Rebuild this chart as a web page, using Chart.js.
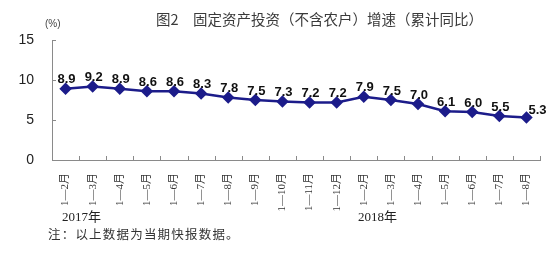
<!DOCTYPE html>
<html>
<head>
<meta charset="utf-8">
<script src="https://cdn.jsdelivr.net/npm/chart.js@4.4.1/dist/chart.umd.min.js"></script>
<style>
  body { margin: 0; background: #fff; }
  #wrap { position: relative; width: 560px; height: 253px; overflow: hidden; }
  #wrap canvas { position: absolute; left: 0; top: 0; }
  .txt { position: absolute; white-space: nowrap; color: #333; }
  #title { left: 156px; top: 8px; font: 14.5px "Noto Sans CJK SC", sans-serif; color: #3a3a3a; }
  #unit { left: 45px; top: 18px; font: 10px "Liberation Sans", Arial, sans-serif; color: #444; }
  .year { top: 206px; font: 13px "Liberation Serif", "Noto Sans CJK SC", serif; color: #222; }
  #note { left: 48px; top: 224px; font: 12.5px "Noto Sans CJK SC", serif; letter-spacing: 1.2px; color: #333; }
</style>
</head>
<body>
<div id="wrap">
  <canvas id="mycanvas" width="560" height="253"></canvas>
  <div class="txt" id="title">图2　固定资产投资（不含农户）增速（累计同比）</div>
  <div class="txt" id="unit">(%)</div>
  <div class="txt year" style="left:62px">2017年</div>
  <div class="txt year" style="left:358px">2018年</div>
  <div class="txt" id="note">注：以上数据为当期快报数据。</div>
</div>
<script>
// 2017: 1-2月 .. 1-12月, 2018: 1-2月 .. 1-8月
var months = ['1—2月', '1—3月', '1—4月', '1—5月', '1—6月', '1—7月', '1—8月', '1—9月', '1—10月', '1—11月', '1—12月',
              '1—2月', '1—3月', '1—4月', '1—5月', '1—6月', '1—7月', '1—8月'];
var growth = [8.9, 9.2, 8.9, 8.6, 8.6, 8.3, 7.8, 7.5, 7.3, 7.2, 7.2,
              7.9, 7.5, 7.0, 6.1, 6.0, 5.5, 5.3];
var yTicks = [0, 5, 10, 15];

var navy = '#1c1c8a';
var axisColor = '#8a8a8a';

// small tick marks pointing into the plot, like the original
var innerTicks = {
    id: 'innerTicks',
    afterDraw: function(chart) {
        var ctx = chart.ctx;
        var xs = chart.scales.x, ys = chart.scales.y;
        ctx.save();
        ctx.strokeStyle = axisColor;
        ctx.lineWidth = 1;
        ctx.beginPath();
        var n = months.length;
        for (var i = 1; i <= n; i++) {
            var px = i < n ? (xs.getPixelForTick(i - 1) + xs.getPixelForTick(i)) / 2 : xs.right;
            px = Math.round(px) + 0.5;
            ctx.moveTo(px, ys.bottom);
            ctx.lineTo(px, ys.bottom - 4);
        }
        yTicks.forEach(function(v) {
            var py = Math.round(ys.getPixelForValue(v)) + 0.5;
            ctx.moveTo(xs.left, py);
            ctx.lineTo(xs.left + 4, py);
        });
        ctx.stroke();
        ctx.restore();
    }
};

// value labels above each point
var valueLabels = {
    id: 'valueLabels',
    afterDatasetsDraw: function(chart) {
        var ctx = chart.ctx;
        var meta = chart.getDatasetMeta(0);
        ctx.save();
        ctx.fillStyle = '#111';
        ctx.font = 'bold 13px "Liberation Sans", Arial, sans-serif';
        ctx.textAlign = 'center';
        ctx.textBaseline = 'middle';
        meta.data.forEach(function(pt, i) {
            var last = i == meta.data.length - 1;
            var dx = last ? 11 : 1;
            var dy = last ? -7 : -9;
            ctx.fillText(growth[i].toFixed(1), pt.x + dx, pt.y + dy);
        });
        ctx.restore();
    }
};

var chartdata = {
    labels: months,
    datasets: [{
        label: '增速',
        data: growth,
        borderColor: navy,
        backgroundColor: navy,
        borderWidth: 2.5,
        pointStyle: 'rectRot',
        pointRadius: 4.5,
        pointBackgroundColor: navy,
        pointBorderColor: navy,
        tension: 0,
        fill: false
    }]
};

var ctx = document.getElementById('mycanvas');
var lineGraph = new Chart(ctx, {
    type: 'line',
    data: chartdata,
    plugins: [innerTicks, valueLabels],
    options: {
        responsive: false,
        animation: false,
        events: [],
        layout: { padding: { top: 40, right: 20, left: 0, bottom: 0 } },
        plugins: {
            legend: { display: false },
            tooltip: { enabled: false }
        },
        scales: {
            x: {
                offset: true,
                grid: { display: false, drawTicks: false },
                border: { display: true, color: axisColor, width: 1 },
                ticks: {
                    autoSkip: false,
                    minRotation: 90,
                    maxRotation: 90,
                    padding: 13,
                    color: '#333',
                    font: { family: '"Liberation Serif", "Noto Sans CJK SC", serif', size: 11 }
                },
                afterFit: function(s) { s.height = 93; }
            },
            y: {
                min: 0,
                max: 15,
                afterBuildTicks: function(s) { s.ticks = yTicks.map(function(v) { return { value: v }; }); },
                grid: { display: false, drawTicks: false },
                border: { display: true, color: axisColor, width: 1 },
                ticks: {
                    padding: 18,
                    color: '#222',
                    font: { family: '"Liberation Sans", Arial, sans-serif', size: 14 }
                },
                afterFit: function(s) { s.width = 52; }
            }
        }
    }
});
</script>
</body>
</html>
